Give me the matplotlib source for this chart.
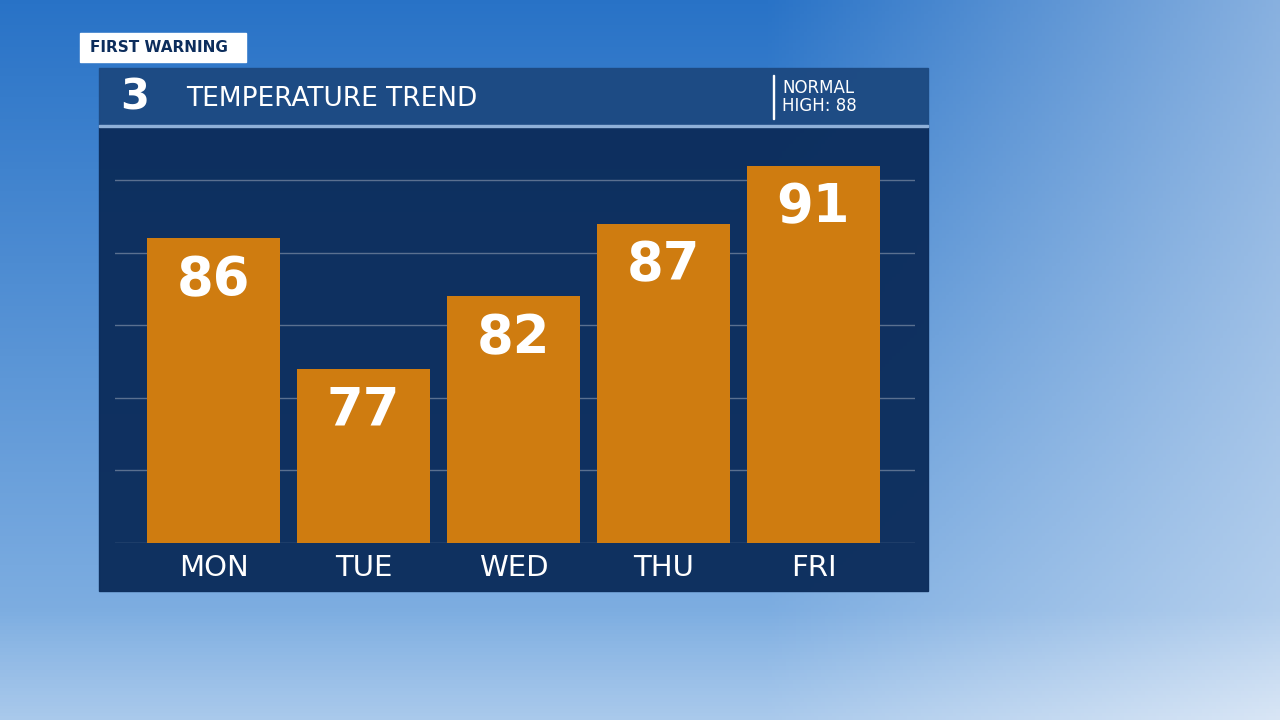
import matplotlib
matplotlib.use("Agg")
import matplotlib.pyplot as plt
import numpy as np
from matplotlib.patches import Rectangle

days = ["MON", "TUE", "WED", "THU", "FRI"]
temps = [86, 77, 82, 87, 91]
title = "TEMPERATURE TREND"
normal_label = "NORMAL\nHIGH: 88"
tag = "FIRST WARNING"

W, H = 1280, 720
fig = plt.figure(figsize=(12.8, 7.2), dpi=100)

# sky background
bg = fig.add_axes([0, 0, 1, 1])
bg.set_axis_off()
yy, xx = np.mgrid[0:1:200j, 0:1:360j]
top = np.array([0.16, 0.45, 0.78]); bot = np.array([0.55, 0.72, 0.90])
img = top[None, None, :] * (1 - yy[..., None]) + bot[None, None, :] * yy[..., None]
cloud = np.clip((xx - 0.6) * 2.2, 0, 1) * 0.55 + np.clip((yy - 0.85) * 4, 0, 1) * 0.5
img = img * (1 - cloud[..., None]) + np.array([0.93, 0.95, 0.98]) * cloud[..., None]
bg.imshow(img, extent=[0, 1, 0, 1], aspect="auto", origin="upper")
bg.set_xlim(0, 1); bg.set_ylim(0, 1)

def rect(x0, y0, x1, y1, **kw):
    bg.add_patch(Rectangle((x0 / W, 1 - y1 / H), (x1 - x0) / W, (y1 - y0) / H, **kw))

rect(99, 126, 928, 591, color="#0c2d5c", alpha=0.97)
rect(99, 68, 928, 126, color="#1d4a82", alpha=0.97)
rect(99, 125, 928, 127, color="#8fb0d8")
rect(80, 33, 246, 62, color="white")
fig.text(90 / W, 1 - 47 / H, tag, color="#0c2d5c", fontsize=11, weight="bold", va="center")
fig.text(120 / W, 1 - 97 / H, "3", color="white", fontsize=30, weight="bold", va="center")
fig.text(186 / W, 1 - 99 / H, title, color="white", fontsize=19, va="center")
rect(773, 75, 774, 119, color="white")
fig.text(782 / W, 1 - 97 / H, normal_label, color="white", fontsize=12, va="center", linespacing=1.0)

ax = fig.add_axes([115 / W, 1 - 543 / H, 800 / W, 402 / H])
ax.set_facecolor("none")
x = np.arange(len(days))
ax.bar(x, np.array(temps) - 65, bottom=65, width=133 / 150, color="#cf7c10", zorder=2)
for xi, t in zip(x, temps):
    ax.text(xi, t - 1.1, str(t), ha="center", va="top", color="white", fontsize=38, weight="bold", zorder=3)
ax.set_xlim(-0.657, 4.677)
ax.set_ylim(65, 92.7)
ax.set_yticks([65, 70, 75, 80, 85, 90])
ax.grid(axis="y", color="#5a7090", lw=1, zorder=0)
ax.tick_params(length=0, labelleft=False)
ax.set_xticks(x)
ax.set_xticklabels(days, color="white", fontsize=21)
ax.tick_params(axis="x", pad=8)
for s in ax.spines.values():
    s.set_visible(False)

fig.savefig("out.png", dpi=100)
